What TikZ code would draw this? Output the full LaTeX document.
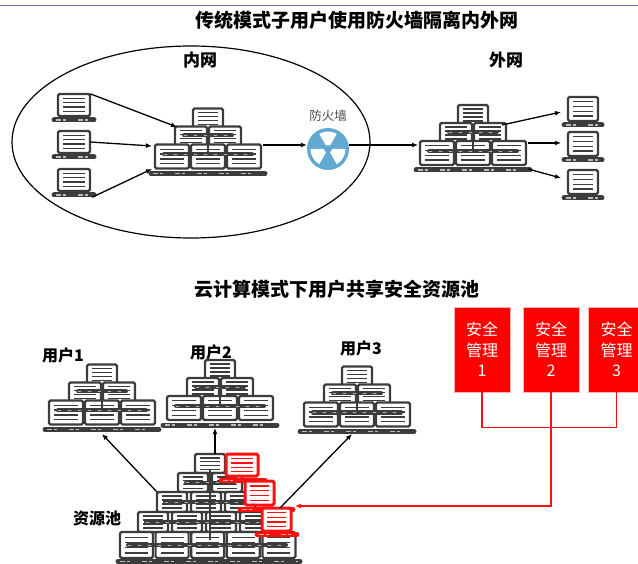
\documentclass[tikz,border=0pt]{standalone}
\usepackage{fontspec}
\usetikzlibrary{arrows.meta,shapes.geometric,calc}
\newfontfamily\cjk{Noto Sans CJK SC}

\definecolor{lapgray}{HTML}{3C3C3C}
\definecolor{netred}{HTML}{FF1010}
\definecolor{boxred}{HTML}{FF0000}
\definecolor{fwblue}{HTML}{62A9D2}
\definecolor{ruleblue}{HTML}{6A6A96}

% outline width of laptop screens
\newcommand{\scrlw}{2.2pt}
% one laptop screen: centre x, top y, width, height, colour
\newcommand{\lapscreen}[5]{%
  \draw[line width=\scrlw, draw=#5, fill=white, rounded corners=1.5pt]
    ({#1-#3/2},{#2}) rectangle ++(#3,#4);
  \foreach \k in {1,2,3,4}{%
    \draw[line width=1.4pt, draw=#5] ({#1-#3/2+5},{#2+#4*\k/5}) -- ++({#3-10},0);}%
}
% keyboard strip: left x, right x, y, colour
\newcommand{\lapbase}[4]{%
  \draw[line width=5pt, draw=#4, line cap=round] ({#1},{#3}) -- ({#2},{#3});
  \draw[line width=1.1pt, draw=white!65!#4, dash pattern=on 5pt off 2pt on 3pt off 12pt]
    ({#1+2},{#3}) -- ({#2-2},{#3});
}
% single laptop: centre x, top y, width, height
\newcommand{\laptop}[4]{%
  \lapscreen{#1}{#2}{#3}{#4}{lapgray}
  \lapbase{#1-#3/2-4}{#1+#3/2+4}{#2+#4+4}{lapgray}
}
% 1-2-3 laptop group on a shared switch: centre x, keyboard y
\newcommand{\lapcluster}[2]{%
  \lapscreen{#1}{#2-65}{30}{20}{lapgray}
  \lapscreen{#1-17}{#2-47}{32}{20}{lapgray}
  \lapscreen{#1+17}{#2-47}{32}{20}{lapgray}
  \draw[hub] ({#1-24},{#2-38}) -- ({#1+24},{#2-38});
  \lapscreen{#1-36}{#2-29}{34}{24}{lapgray}
  \lapscreen{#1}{#2-29}{34}{24}{lapgray}
  \lapscreen{#1+36}{#2-29}{34}{24}{lapgray}
  \draw[hub] ({#1-44},{#2-19}) -- ({#1+44},{#2-19});
  \draw[line width=2pt, lapgray] ({#1},{#2-45}) -- ({#1},{#2-19});
  \lapbase{#1-57}{#1+57}{#2}{lapgray}
}

\begin{document}
\begin{tikzpicture}[x=1pt,y=-1pt,
  hub/.style={line width=4pt, draw=lapgray, line cap=round,
    postaction={draw=white!60!lapgray, line width=0.9pt, dash pattern=on 3pt off 7pt}},
  conn/.style={line width=1.3pt, draw=black, -{Latex[length=6pt,width=5pt]}},
  redline/.style={line width=1.5pt, draw=netred},
  title/.style={font=\cjk\bfseries\fontsize{19}{19}\selectfont},
  zone/.style={font=\cjk\bfseries\fontsize{17}{17}\selectfont},
  label/.style={font=\cjk\bfseries\fontsize{16}{16}\selectfont},
  area/.style={inner sep=0pt, minimum width=#1},
  redbox/.style={draw=white!70!boxred, line width=0.8pt, fill=boxred, text=white,
    minimum width=56pt, minimum height=85pt, inner sep=0pt, align=center,
    font=\cjk\fontsize{16}{20.5}\selectfont}]
\useasboundingbox (0,0) rectangle (638,564);

\draw[line width=1pt, ruleblue] (0,6) -- (638,6);

% ---------- traditional mode ----------
\node[title] (t1) at (357,20) {传统模式子用户使用防火墙隔离内外网};
\node[draw, ellipse, line width=1.2pt, minimum width=358pt, minimum height=192pt] (lan) at (191,142) {};
\node[zone] (lanlbl) at (200,60) {内网};
\node[zone] (wanlbl) at (506,60) {外网};

% inner terminals
\laptop{74}{94}{32}{22}
\laptop{74}{131}{32}{22}
\laptop{74}{169}{32}{22}
\node[area=32pt, minimum height=22pt] (in1) at (74,105) {};
\node[area=32pt, minimum height=22pt] (in2) at (74,142) {};
\node[area=32pt, minimum height=22pt] (in3) at (74,180) {};

% inner and outer server groups
\lapcluster{208}{173.5}
\lapcluster{473}{170}
\coordinate (lanA) at (177,127);
\coordinate (lanB) at (152,146);
\coordinate (lanC) at (152,169);
\coordinate (lanout) at (263,145);
\coordinate (wanin) at (418,145);
\coordinate (wanA) at (502,125);
\coordinate (wanB) at (528,143);
\coordinate (wanC) at (528,169);

% outer terminals
\laptop{583}{97}{30}{24}
\laptop{583}{132}{30}{24}
\laptop{583}{170}{30}{24}
\coordinate (out1) at (561,112);
\coordinate (out2) at (561,143);
\coordinate (out3) at (561,178);

% firewall
\node[circle, fill=fwblue, minimum size=42pt, inner sep=0pt] (fw) at (328,149) {};
\foreach \a in {90,210,330}{%
  \fill[white] ($(fw.center)+(\a-30:4pt)$) arc[start angle=\a-30, end angle=\a+30, radius=4pt]
    -- ($(fw.center)+(\a+30:17.5pt)$) arc[start angle=\a+30, end angle=\a-30, radius=17.5pt] -- cycle;}
\node[font=\cjk\fontsize{12.5}{12.5}\selectfont, text=black!70] (fwlbl) at (328,116) {防火墙};

\draw[conn] (in1.north east) -- (lanA);
\draw[conn] (in2.east) -- (lanB);
\draw[conn] ($(in3.south east)+(2,6)$) -- (lanC);
\draw[conn] (lanout) -- (fw.west |- lanout);
\draw[conn] (fw.east |- lanout) -- (wanin);
\draw[conn] (wanA) -- (out1);
\draw[conn] (wanB) -- (out2);
\draw[conn] (wanC) -- (out3);

% ---------- cloud mode ----------
\node[title] (t2) at (337,289) {云计算模式下用户共享安全资源池};
\node[label] (u1lbl) at (63,355) {用户1};
\node[label] (u2lbl) at (211,352) {用户2};
\node[label] (u3lbl) at (361,348) {用户3};
\node[label] (poollbl) at (97,518) {资源池};

\lapcluster{102}{429.5}
\lapcluster{220}{425}
\lapcluster{357}{431.5}
\coordinate (u1) at (102,434);
\coordinate (u2) at (215,428);
\coordinate (u3) at (352,434);

% shared resource pool
\foreach \lx/\ty/\n/\st/\w/\h in {195/454/1/34/30/19, 178/473/2/34/30/19,
    157/492/3/34/30/20, 138/512/4/34/30/20, 120/532/5/35.6/33/26}{%
  \foreach \i in {1,...,\n}{\lapscreen{\lx+\st*\i-\st+\w/2}{\ty}{\w}{\h}{lapgray}}
  \ifnum\n>1 \draw[hub] ({\lx+8},{\ty+\h/2}) -- ({\lx+\st*\n-12},{\ty+\h/2}); \fi
}
\draw[line width=2pt, lapgray] (210,470) -- (210,540);
\lapbase{118}{300}{561.5}{lapgray}
\coordinate (p1) at (157,492);
\coordinate (p2) at (215,454);
\coordinate (p3) at (280,508);

% secured nodes inside the pool
\renewcommand{\scrlw}{3pt}
\lapscreen{242}{454}{32}{22}{netred}
\lapbase{221}{265}{480.5}{netred}
\lapscreen{259.5}{481}{29}{24}{netred}
\lapbase{240}{293}{509.5}{netred}
\lapscreen{276.5}{508}{29}{23}{netred}
\lapbase{257}{297}{534.5}{netred}
\coordinate (sec) at (295,506);

\draw[conn] (p1) -- (u1);
\draw[conn] (p2) -- (u2);
\draw[conn] (p3) -- (u3);

% security management units
\node[redbox] (m1) at (482,349.5) {安全\\管理\\1};
\node[redbox] (m2) at (551,349.5) {安全\\管理\\2};
\node[redbox] (m3) at (616.5,349.5) {安全\\管理\\3};
\draw[redline] (m1.south) -- ++(0,35) -| (m3.south);
\draw[redline, -{Latex[length=6pt,width=5pt]}] (m2.south) |- (sec);
\end{tikzpicture}
\end{document}
